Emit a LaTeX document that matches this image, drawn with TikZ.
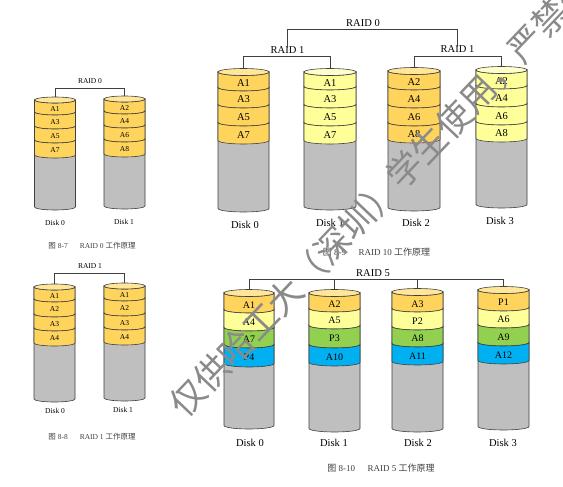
\documentclass[tikz,border=0pt]{standalone}
\usepackage{fontspec}
\setmainfont{Liberation Serif}
\newfontfamily\cjk{Noto Sans CJK SC}
\definecolor{orC}{HTML}{FFD45C}
\definecolor{orT}{HTML}{FFE699}
\definecolor{ylC}{HTML}{FFFF99}
\definecolor{ylT}{HTML}{FFFFCC}
\definecolor{grC}{HTML}{92D050}
\definecolor{blC}{HTML}{00B0F0}
\definecolor{gyC}{HTML}{BFBFBF}
\definecolor{lnC}{HTML}{404040}
\definecolor{wmC}{HTML}{8A8A8A}
\tikzset{
  diskline/.style={draw=lnC,line width=0.6pt},
  conn/.style={draw=lnC,line width=0.6pt},
  bandS/.style={font=\fontsize{7.5}{9}\selectfont,inner sep=0pt},
  bandB/.style={font=\fontsize{10.5}{12}\selectfont,inner sep=0pt},
  bandM/.style={font=\fontsize{10}{12}\selectfont,inner sep=0pt},
  lblS/.style={font=\fontsize{7.5}{9}\selectfont,inner sep=0pt},
  lblB/.style={font=\fontsize{10.5}{12}\selectfont,inner sep=0pt},
  capS/.style={font=\fontsize{7.5}{9}\selectfont,text=lnC,inner sep=0pt},
  capB/.style={font=\fontsize{9}{11}\selectfont,text=lnC,inner sep=0pt},
  wmark/.style={font=\cjk\fontsize{35}{36}\selectfont,text=wmC,inner sep=0pt},
}
% #1 name, #2 cx, #3 half width, #4 ry, #5 top centre y, #6 bottom lowest y,
% #7 top colour, #8 text style, #9 list lowest-y/colour/text
\newcommand\disk[9]{%
  \pgfmathsetmacro\dkl{#2-#3}\pgfmathsetmacro\dkr{#2+#3}%
  \filldraw[diskline,fill=gyC] (\dkl,-#5) -- (\dkl,{-(#6-#4)})
     arc[start angle=180,end angle=360,x radius=#3pt,y radius=#4pt] -- (\dkr,-#5) -- cycle;
  \foreach \yy/\bandc/\lab [remember=\yy as \py (initially #5+#4), count=\k] in {#9}{%
    \pgfmathsetmacro\ya{-(\py-#4)}\pgfmathsetmacro\yb{-(\yy-#4)}\pgfmathsetmacro\ym{-(\py+\yy)/2}%
    \filldraw[diskline,fill=\bandc] (\dkl,\ya) -- (\dkl,\yb)
       arc[start angle=180,end angle=360,x radius=#3pt,y radius=#4pt] -- (\dkr,\ya)
       arc[start angle=0,end angle=-180,x radius=#3pt,y radius=#4pt] -- cycle;
    \node[#8] (#1-\k) at (#2,\ym) {\lab};
  }
  \filldraw[diskline,fill=#7] (#2,-#5) ellipse[x radius=#3pt,y radius=#4pt];
  \coordinate (#1) at (#2,{-(#5-#4)});
}
\begin{document}
\begin{tikzpicture}[x=1pt,y=1pt]
\fill[white] (0,0) rectangle (563,-487);
\useasboundingbox (0,0) rectangle (563,-487);

% ---------- RAID 0 (top left)
\disk{a0}{55}{20.5}{3}{100}{210}{orT}{bandS}{115/orC/A1,129/orC/A3,143/orC/A5,158/orC/A7}
\disk{a1}{124.5}{20.5}{3}{99}{209}{orT}{bandS}{114/orC/A2,128/orC/A4,142/orC/A6,157/orC/A8}
\node[lblS] (ra0) at (90,-81) {RAID 0};
\coordinate (busa) at (0,-88);
\draw[conn] (a0) -- (a0 |- busa) -- (a1 |- busa) -- (a1);
\node[lblS] (da0) at (55,-223) {Disk 0};
\node[lblS] (da1) at (124,-222) {Disk 1};
\node[capS] (capa) at (92,-246) {{\cjk 图} 8-7\hspace{1.6em}RAID 0 {\cjk 工作原理}};

% ---------- RAID 10 (top right)
\disk{b0}{243.5}{25.5}{3.5}{72}{212}{orT}{bandB}{91/orC/A1,108/orC/A3,126/orC/A5,144/orC/A7}
\disk{b1}{330}{26}{3.5}{72}{210}{ylT}{bandB}{90/ylC/A1,108/ylC/A3,126/ylC/A5,144/ylC/A7}
\disk{b2}{414}{26}{3.5}{71}{211}{orT}{bandB}{90/orC/A2,108/orC/A4,126/orC/A6,143/orC/A8}
\disk{b3}{501.5}{25.5}{3.5}{70}{208}{ylT}{bandB}{89/ylC/A2,107/ylC/A4,125/ylC/A6,142/ylC/A8}
\node[lblB] (rb1a) at (287.5,-50.5) {RAID 1};
\node[lblB] (rb1b) at (457.5,-49.5) {RAID 1};
\node[lblB] (rb0) at (363,-23.5) {RAID 0};
\coordinate (busb1) at (0,-56);
\coordinate (busb0) at (0,-29);
\draw[conn] (b0) -- (b0 |- busb1) -- (b1 |- busb1) -- (b1);
\draw[conn] (b2) -- (b2 |- busb1) -- (b3 |- busb1) -- (b3);
\draw[conn] ([yshift=-1pt]rb1a.north) -- (rb1a.north |- busb0) -- (rb1b.north |- busb0) -- ([yshift=-1pt]rb1b.north);
\node[lblB] (db0) at (245,-225) {Disk 0};
\node[lblB] (db1) at (330,-223) {Disk 1};
\node[lblB] (db2) at (416,-223) {Disk 2};
\node[lblB] (db3) at (500,-221) {Disk 3};
\node[capB] (capb) at (376.5,-252) {{\cjk 图} 8-9\hspace{1.4em}RAID 10 {\cjk 工作原理}};

% ---------- RAID 1 (bottom left)
\disk{c0}{54.5}{20.5}{3}{287}{402}{orT}{bandS}{302/orC/A1,317/orC/A2,331/orC/A3,346/orC/A4}
\disk{c1}{124.5}{20.5}{3}{286}{401}{orT}{bandS}{301/orC/A1,316/orC/A2,330/orC/A3,345/orC/A4}
\node[lblS] (rc1) at (90,-266) {RAID 1};
\coordinate (busc) at (0,-273);
\draw[conn] (c0) -- (c0 |- busc) -- (c1 |- busc) -- (c1);
\node[lblS] (dc0) at (55,-411) {Disk 0};
\node[lblS] (dc1) at (123,-410) {Disk 1};
\node[capS] (capc) at (92,-437) {{\cjk 图} 8-8\hspace{1.6em}RAID 1 {\cjk 工作原理}};

% ---------- RAID 5 (bottom right)
\disk{d0}{249}{25}{3.5}{293}{429}{orT}{bandM}{313/orC/A1,331/ylC/A4,348/grC/A7,367/blC/P4}
\disk{d1}{334.5}{25.5}{3.5}{293}{432}{orT}{bandM}{312/orC/A2,329/ylC/A5,348/grC/P3,366/blC/A10}
\disk{d2}{417.5}{25.5}{3.5}{292}{432}{orT}{bandM}{312/orC/A3,330/ylC/P2,347/grC/A8,365/blC/A11}
\disk{d3}{503.5}{25.5}{3.5}{290}{430}{orT}{bandM}{311/orC/P1,328/ylC/A6,346/grC/A9,364/blC/A12}
\node[lblB] (rd5) at (373,-273) {RAID 5};
\coordinate (busd) at (0,-279);
\draw[conn] (d0) -- (d0 |- busd) -- (d3 |- busd) -- (d3);
\draw[conn] (d1) -- (d1 |- busd);
\draw[conn] (d2) -- (d2 |- busd);
\node[lblB] (dd0) at (250,-443) {Disk 0};
\node[lblB] (dd1) at (334,-443) {Disk 1};
\node[lblB] (dd2) at (418,-443) {Disk 2};
\node[lblB] (dd3) at (503,-443) {Disk 3};
\node[capB] (capd) at (381,-468) {{\cjk 图} 8-10\hspace{1.4em}RAID 5 {\cjk 工作原理}};

% ---------- watermark
\node[wmark,anchor=west,rotate=46.4] (wm) at (176,-411) {仅供哈工大（深圳）学生使用，严禁外传};
\end{tikzpicture}
\end{document}
